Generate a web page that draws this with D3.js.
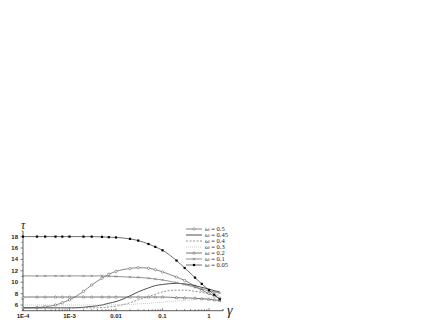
<!DOCTYPE html>
<html>
<head>
<meta charset="utf-8">
<script src="https://cdn.jsdelivr.net/npm/d3@7"></script>
<style>
	body { margin: 0; background: #fff; }
	svg { display: block; }
	.tick-label { font-family: "Liberation Sans", Arial, sans-serif; font-size: 6px; font-weight: bold; fill: #222; }
	.legend-label { font-family: "Liberation Serif", "Times New Roman", serif; font-size: 6.5px; fill: #222; }
</style>
</head>
<body>
<div id="chart"></div>
<script>
// data
var gammas = [1e-4, 2e-4, 3e-4, 5e-4, 7e-4, 1e-3, 2e-3, 3e-3, 5e-3, 7e-3, 0.01, 0.02, 0.03, 0.05, 0.07, 0.1, 0.2, 0.3, 0.5, 0.7, 1, 1.3, 1.7];

var tau05  = [5.5, 5.55, 5.7, 6.0, 6.4, 6.9, 8.4, 9.5, 10.7, 11.4, 11.9, 12.4, 12.55, 12.45, 12.2, 11.8, 10.9, 10.3, 9.3, 8.6, 8.0, 7.6, 7.2];
var tau045 = [5.5, 5.5, 5.5, 5.5, 5.5, 5.5, 5.6, 5.75, 6.0, 6.3, 6.6, 7.6, 8.3, 9.0, 9.4, 9.6, 9.8, 9.7, 9.4, 9.1, 8.8, 8.5, 8.3];
var tau04  = [5.5, 5.5, 5.5, 5.5, 5.5, 5.5, 5.5, 5.5, 5.55, 5.65, 5.8, 6.4, 6.9, 7.5, 7.9, 8.3, 8.6, 8.6, 8.4, 8.2, 8.0, 7.8, 7.7];
var tau03  = [6.0, 6.0, 6.0, 6.0, 6.0, 6.0, 6.0, 6.0, 6.0, 6.0, 6.05, 6.1, 6.2, 6.3, 6.4, 6.5, 6.7, 6.8, 7.0, 7.1, 7.2, 7.3, 7.3];
var tau02  = [7.4, 7.4, 7.4, 7.4, 7.4, 7.4, 7.4, 7.4, 7.4, 7.4, 7.4, 7.4, 7.4, 7.4, 7.4, 7.4, 7.3, 7.25, 7.2, 7.1, 7.0, 6.9, 6.8];
var tau01  = [11.1, 11.1, 11.1, 11.1, 11.1, 11.1, 11.1, 11.1, 11.1, 11.05, 11.0, 10.9, 10.85, 10.7, 10.55, 10.4, 9.9, 9.6, 9.1, 8.8, 8.5, 8.3, 8.1];
var tau005 = [18.0, 18.0, 18.0, 18.0, 18.0, 18.0, 18.0, 18.0, 17.95, 17.9, 17.85, 17.6, 17.3, 16.7, 16.2, 15.6, 13.8, 12.5, 10.8, 9.7, 8.6, 7.8, 7.0];

var omegaLabels = ["0.5", "0.45", "0.4", "0.3", "0.2", "0.1", "0.05"];

var xTickValues = [1e-4, 1e-3, 0.01, 0.1, 1];
var xTickLabels = ["1E-4", "1E-3", "0.01", "0.1", "1"];
var yTickValues = [6, 8, 10, 12, 14, 16, 18];

function Chart (targetDomElement) {
	var chartObject = {};
	var width = 436;
	var height = 327;
	var svg, x, y;

	function constructor (target) {
		svg = d3.select(target)
			.append("svg")
			.attr("width", width)
			.attr("height", height);

		x = d3.scaleLog().domain([1e-4, 2]).range([23, 223]);
		y = d3.scaleLinear().domain([5, 19]).range([310.7, 230.9]);
		return chartObject;
	}

	chartObject.render = function () {
		drawAxes();
		var series = [
			{ label: omegaLabels[0], values: tau05, color: "#666", width: 0.8, dash: null, marker: "circle" },
			{ label: omegaLabels[1], values: tau045, color: "#222", width: 0.8, dash: null, marker: null },
			{ label: omegaLabels[2], values: tau04, color: "#777", width: 0.8, dash: "2,1.5", marker: null },
			{ label: omegaLabels[3], values: tau03, color: "#bbb", width: 0.8, dash: "1,1", marker: null },
			{ label: omegaLabels[4], values: tau02, color: "#555", width: 0.8, dash: null, marker: "triangle" },
			{ label: omegaLabels[5], values: tau01, color: "#777", width: 0.8, dash: null, marker: "cross" },
			{ label: omegaLabels[6], values: tau005, color: "#333", width: 0.7, dash: null, marker: "square" }
		];

		var line = d3.line()
			.x(function (d) { return x(d[0]); })
			.y(function (d) { return y(d[1]); })
			.curve(d3.curveMonotoneX);

		series.forEach(function (s) {
			var pts = gammas.map(function (g, i) { return [g, s.values[i]]; });
			svg.append("path")
				.attr("d", line(pts))
				.attr("fill", "none")
				.attr("stroke", s.color)
				.attr("stroke-width", s.width)
				.attr("stroke-dasharray", s.dash);
			pts.forEach(function (p) {
				drawMarker(s.marker, x(p[0]), y(p[1]), s.color);
			});
		});

		drawLegend(series);
	};

	function drawMarker (type, cx, cy, color) {
		if (!type) return;
		if (type === "circle") {
			svg.append("circle").attr("cx", cx).attr("cy", cy).attr("r", 1.2)
				.attr("fill", "#fff").attr("stroke", color).attr("stroke-width", 0.6);
		} else if (type === "square") {
			svg.append("rect").attr("x", cx - 1.1).attr("y", cy - 1.1)
				.attr("width", 2.2).attr("height", 2.2).attr("fill", "#000");
		} else if (type === "cross") {
			svg.append("path")
				.attr("d", "M" + (cx - 1.2) + "," + (cy - 1.2) + "L" + (cx + 1.2) + "," + (cy + 1.2) +
					"M" + (cx - 1.2) + "," + (cy + 1.2) + "L" + (cx + 1.2) + "," + (cy - 1.2))
				.attr("stroke", color).attr("stroke-width", 0.6);
		} else if (type === "triangle") {
			svg.append("path")
				.attr("d", "M" + cx + "," + (cy - 1.4) + "L" + (cx + 1.3) + "," + (cy + 1) +
					"L" + (cx - 1.3) + "," + (cy + 1) + "Z")
				.attr("fill", "#fff").attr("stroke", color).attr("stroke-width", 0.5);
		}
	}

	function drawAxes () {
		var xMinor = [];
		for (var e = -4; e <= 0; e++) {
			for (var m = 1; m <= 9; m++) {
				var v = m * Math.pow(10, e);
				if (v <= 2) xMinor.push(v);
			}
		}
		xMinor.push(2);

		var xAxis = svg.append("g").attr("transform", "translate(0," + y(5) + ")");
		xAxis.append("line").attr("x1", x(1e-4)).attr("x2", x(2)).attr("stroke", "#333").attr("stroke-width", 0.8);
		xAxis.selectAll(".xminor").data(xMinor).enter().append("line")
			.attr("x1", function (d) { return x(d); }).attr("x2", function (d) { return x(d); })
			.attr("y1", 0).attr("y2", function (d) { return xTickValues.indexOf(d) >= 0 ? -2.5 : -1.5; })
			.attr("stroke", "#333").attr("stroke-width", 0.6);
		xAxis.selectAll(".xlab").data(xTickValues).enter().append("text")
			.attr("class", "tick-label")
			.attr("x", function (d) { return x(d); })
			.attr("y", 7)
			.attr("text-anchor", "middle")
			.text(function (d, i) { return xTickLabels[i]; });

		var yAxis = svg.append("g").attr("transform", "translate(" + x(1e-4) + ",0)");
		yAxis.append("line").attr("y1", y(5)).attr("y2", y(19)).attr("stroke", "#333").attr("stroke-width", 0.8);
		yAxis.selectAll(".yminor").data(d3.range(5, 20)).enter().append("line")
			.attr("y1", function (d) { return y(d); }).attr("y2", function (d) { return y(d); })
			.attr("x1", 0).attr("x2", function (d) { return d % 2 === 0 ? -2.5 : -1.5; })
			.attr("stroke", "#333").attr("stroke-width", 0.6);
		yAxis.selectAll(".ylab").data(yTickValues).enter().append("text")
			.attr("class", "tick-label")
			.attr("x", -5)
			.attr("y", function (d) { return y(d) + 2; })
			.attr("text-anchor", "end")
			.text(function (d) { return d; });

		svg.append("text")
			.attr("x", x(1e-4) - 2).attr("y", 229)
			.attr("font-family", "Liberation Serif, serif").attr("font-style", "italic")
			.attr("font-size", 12).attr("fill", "#222")
			.text("τ");
		svg.append("text")
			.attr("x", 227).attr("y", 315)
			.attr("font-family", "Liberation Serif, serif").attr("font-style", "italic")
			.attr("font-size", 14).attr("fill", "#222")
			.text("γ");
	}

	function drawLegend (series) {
		var lg = svg.append("g");
		series.forEach(function (s, i) {
			var ly = 229 + i * 6;
			lg.append("line").attr("x1", 186).attr("x2", 202).attr("y1", ly).attr("y2", ly)
				.attr("stroke", s.color).attr("stroke-width", s.width).attr("stroke-dasharray", s.dash);
			drawMarker(s.marker, 194, ly, s.color);
			var t = lg.append("text").attr("class", "legend-label").attr("x", 205).attr("y", ly + 2);
			t.append("tspan").attr("font-style", "italic").text("ω");
			t.append("tspan").text(" = " + s.label);
		});
	}

	return constructor(targetDomElement);
}

var chart = Chart(document.getElementById("chart"));
chart.render();
</script>
</body>
</html>
